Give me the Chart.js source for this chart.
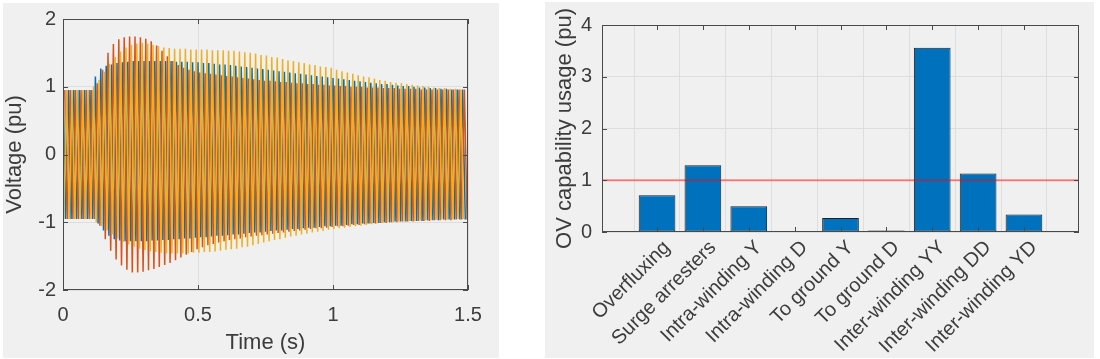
<!DOCTYPE html>
<html>
<head>
<meta charset="utf-8">
<script src="https://cdn.jsdelivr.net/npm/chart.js@4.4.1/dist/chart.umd.min.js"></script>
<style>
    html, body { margin: 0; padding: 0; background: #fff; }
    body { width: 1100px; height: 359px; position: relative; overflow: hidden; }
    .panel { position: absolute; background: #f0f0f0; }
    #leftPanel { left: 3px; top: 3px; width: 496px; height: 355px; }
    #rightPanel { left: 545px; top: 2px; width: 549px; height: 356px; }
    .box { position: absolute; top: 0; height: 359px; }
    #leftBox { left: 0; width: 500px; }
    #rightBox { left: 545px; width: 555px; }
</style>
</head>
<body>
<div class="panel" id="leftPanel"></div>
<div class="panel" id="rightPanel"></div>
<div class="box" id="leftBox"><canvas id="voltageChart"></canvas></div>
<div class="box" id="rightBox"><canvas id="usageChart"></canvas></div>
<script>
// ---- left plot: three phase voltages, one peak and one trough per 50 Hz cycle ----
const period = 0.02;

const bluePeaks = [0.95, 0.95, 0.95, 0.95, 0.95, 0.95,
    1.15, 1.27, 1.31, 1.33, 1.35, 1.36, 1.37, 1.38, 1.38, 1.38,
    1.38, 1.38, 1.38, 1.38, 1.38, 1.37, 1.37,
    1.37, 1.36, 1.36, 1.35, 1.35,
    1.34, 1.33, 1.33, 1.32, 1.31,
    1.30, 1.29, 1.28, 1.27, 1.26,
    1.25, 1.24, 1.23, 1.22, 1.21,
    1.20, 1.19, 1.18, 1.17, 1.16,
    1.15, 1.14, 1.13, 1.12, 1.11,
    1.10, 1.09, 1.08, 1.07, 1.06,
    1.05, 1.04, 1.04, 1.03, 1.02,
    1.01, 1.01, 1.00, 0.99, 0.99,
    0.98, 0.98, 0.97, 0.97, 0.96, 0.96, 0.96];
const blueTroughs = [-0.95, -0.95, -0.95, -0.95, -0.95, -0.95,
    -1.02, -1.12, -1.20, -1.25, -1.27,
    -1.28, -1.28, -1.28, -1.28, -1.28, -1.27,
    -1.27, -1.26, -1.26, -1.25, -1.25, -1.24, -1.24, -1.23,
    -1.22, -1.22, -1.21, -1.20, -1.20, -1.19, -1.18, -1.18, -1.17, -1.16,
    -1.15, -1.15, -1.14, -1.13, -1.12, -1.12, -1.11, -1.10, -1.10, -1.09,
    -1.08, -1.08, -1.07, -1.06, -1.06, -1.05, -1.05, -1.04, -1.03, -1.03,
    -1.02, -1.02, -1.01, -1.01, -1.00, -1.00, -0.99, -0.99, -0.99, -0.98,
    -0.98, -0.98, -0.97, -0.97, -0.97, -0.96, -0.96, -0.96, -0.96, -0.96];

const orangePeaks = [0.95, 0.95, 0.95, 0.95, 0.95, 0.95,
    1.05, 1.25, 1.50, 1.63, 1.70,
    1.73, 1.74, 1.74, 1.73, 1.71,
    1.67, 1.61, 1.53, 1.45, 1.38,
    1.32, 1.28, 1.25, 1.23, 1.21,
    1.20, 1.19, 1.18, 1.17, 1.16, 1.15, 1.14, 1.13, 1.12, 1.11,
    1.10, 1.09, 1.09, 1.08, 1.07, 1.07, 1.06, 1.05, 1.05, 1.04,
    1.04, 1.03, 1.03, 1.02, 1.02, 1.01, 1.01, 1.00, 1.00, 1.00,
    0.99, 0.99, 0.99, 0.98, 0.98, 0.98, 0.97, 0.97, 0.97, 0.97,
    0.96, 0.96, 0.96, 0.96, 0.96, 0.96, 0.96, 0.96, 0.96];
const orangeTroughs = [-0.95, -0.95, -0.95, -0.95, -0.95, -0.95,
    -1.05, -1.25, -1.42, -1.55, -1.64,
    -1.70, -1.74, -1.74, -1.73, -1.71,
    -1.69, -1.66, -1.63, -1.60, -1.56,
    -1.52, -1.48, -1.44, -1.40, -1.37,
    -1.34, -1.32, -1.30, -1.28, -1.26,
    -1.25, -1.24, -1.22, -1.21, -1.20, -1.19, -1.18, -1.17, -1.16, -1.15,
    -1.14, -1.13, -1.12, -1.11, -1.10, -1.09, -1.09, -1.08, -1.07, -1.06,
    -1.06, -1.05, -1.04, -1.04, -1.03, -1.02, -1.02, -1.01, -1.01, -1.00,
    -1.00, -0.99, -0.99, -0.99, -0.98, -0.98, -0.98, -0.97, -0.97, -0.97, -0.97, -0.96, -0.96, -0.96];

const yellowPeaks = [0.95, 0.95, 0.95, 0.95, 0.95, 0.95,
    1.00, 1.10, 1.22, 1.34, 1.44,
    1.52, 1.58, 1.62, 1.64, 1.65,
    1.64, 1.62, 1.60, 1.58, 1.57,
    1.56, 1.56, 1.56, 1.55, 1.55,
    1.55, 1.55, 1.54, 1.54, 1.54,
    1.53, 1.53, 1.52, 1.51, 1.50,
    1.49, 1.47, 1.46, 1.44, 1.43,
    1.41, 1.39, 1.38, 1.36, 1.35,
    1.33, 1.32, 1.30, 1.29, 1.28,
    1.25, 1.23, 1.21, 1.19, 1.17,
    1.15, 1.14, 1.12, 1.10, 1.09,
    1.07, 1.06, 1.05, 1.04, 1.03,
    1.02, 1.01, 1.00, 0.99, 0.98,
    0.98, 0.97, 0.97, 0.96];
const yellowTroughs = [-0.95, -0.95, -0.95, -0.95, -0.95, -0.95,
    -1.00, -1.06, -1.12, -1.18, -1.24,
    -1.29, -1.33, -1.36, -1.39, -1.41,
    -1.43, -1.44, -1.45, -1.46, -1.46,
    -1.46, -1.46, -1.46, -1.45, -1.45,
    -1.44, -1.44, -1.43, -1.42, -1.41,
    -1.40, -1.39, -1.37, -1.36, -1.34,
    -1.32, -1.30, -1.28, -1.26, -1.25,
    -1.23, -1.21, -1.20, -1.18, -1.17,
    -1.15, -1.14, -1.13, -1.11, -1.10,
    -1.09, -1.08, -1.07, -1.06, -1.05,
    -1.04, -1.03, -1.02, -1.01, -1.00,
    -1.00, -0.99, -0.99, -0.98, -0.98,
    -0.97, -0.97, -0.97, -0.96, -0.96, -0.96, -0.96, -0.95, -0.95];

// ---- right plot ----
const categories = ['Overfluxing', 'Surge arresters', 'Intra-winding Y', 'Intra-winding D',
    'To ground Y', 'To ground D', 'Inter-winding YY', 'Inter-winding DD', 'Inter-winding YD'];
const usage = [0.71, 1.29, 0.50, 0, 0.27, 0.03, 3.56, 1.13, 0.34];
const limitLevel = 1;

const tickFont = { family: 'Liberation Sans, Arial, sans-serif', size: 20 };
const titleFont = { family: 'Liberation Sans, Arial, sans-serif', size: 22 };
const textColor = '#3c3c3c';
const axisColor = '#4a4a4a';
const gridColor = '#dedede';

Chart.defaults.animation = false;
Chart.defaults.plugins.legend.display = false;
Chart.defaults.plugins.tooltip.enabled = false;

// matlab style box with inward ticks
const matlabBox = {
    id: 'matlabBox',
    afterDraw(chart) {
        const { ctx, chartArea: a, scales } = chart;
        const len = 5;
        ctx.save();
        ctx.strokeStyle = axisColor;
        ctx.lineWidth = 1;
        ctx.beginPath();
        scales.x.ticks.forEach(t => {
            const px = Math.round(scales.x.getPixelForValue(t.value)) + 0.5;
            ctx.moveTo(px, a.bottom); ctx.lineTo(px, a.bottom - len);
            ctx.moveTo(px, a.top); ctx.lineTo(px, a.top + len);
        });
        scales.y.ticks.forEach(t => {
            const py = Math.round(scales.y.getPixelForValue(t.value)) + 0.5;
            ctx.moveTo(a.left, py); ctx.lineTo(a.left + len, py);
            ctx.moveTo(a.right, py); ctx.lineTo(a.right - len, py);
        });
        ctx.stroke();
        ctx.strokeRect(a.left + 0.5, a.top + 0.5, a.right - a.left - 1, a.bottom - a.top - 1);
        ctx.restore();
    }
};

function phasePoints(peaks, troughs, shift) {
    const pts = [];
    peaks.forEach((p, k) => {
        pts.push({ x: k * period + shift, y: p });
        pts.push({ x: k * period + shift + period / 2, y: troughs[k] });
    });
    return pts;
}

function lineSet(data, color, order) {
    return { data: data, borderColor: color, borderWidth: 1.5, pointRadius: 0, tension: 0, order: order };
}

new Chart(document.getElementById('voltageChart').getContext('2d'), {
    type: 'line',
    data: {
        datasets: [
            lineSet(phasePoints(bluePeaks, blueTroughs, 0), '#0072BD', 2),
            lineSet(phasePoints(orangePeaks, orangeTroughs, period / 3), '#D95319', 1),
            lineSet(phasePoints(yellowPeaks, yellowTroughs, -period / 3), '#EDB120', 0)
        ]
    },
    options: {
        responsive: true,
        maintainAspectRatio: false,
        layout: { padding: { left: 0, top: 13, right: 32, bottom: 0 }, autoPadding: false },
        scales: {
            x: {
                type: 'linear', min: 0, max: 1.5,
                ticks: { stepSize: 0.5, font: tickFont, color: textColor, padding: 13, maxRotation: 0,
                    callback: v => String(v) },
                grid: { color: gridColor, drawTicks: false },
                border: { display: false },
                title: { display: true, text: 'Time (s)', font: titleFont, color: textColor, padding: { top: 0, bottom: 3 } },
                afterFit: s => { s.height = 69; }
            },
            y: {
                min: -2, max: 2,
                ticks: { stepSize: 1, font: tickFont, color: textColor, padding: 7 },
                grid: { color: gridColor, drawTicks: false },
                border: { display: false },
                title: { display: true, text: 'Voltage (pu)', font: titleFont, color: textColor, padding: { top: 2, bottom: 0 } },
                afterFit: s => { s.width = 63; }
            }
        }
    },
    plugins: [matlabBox]
});

const limitLine = {
    id: 'limitLine',
    afterDatasetsDraw(chart) {
        const { ctx, chartArea: a, scales: { y } } = chart;
        const py = y.getPixelForValue(limitLevel);
        ctx.save();
        ctx.strokeStyle = 'rgba(255, 0, 0, 0.45)';
        ctx.lineWidth = 2;
        ctx.beginPath();
        ctx.moveTo(a.left, py);
        ctx.lineTo(a.right, py);
        ctx.stroke();
        ctx.restore();
    }
};

const xMargin = 1.2;

new Chart(document.getElementById('usageChart').getContext('2d'), {
    type: 'bar',
    data: {
        datasets: [{
            data: usage.map((v, i) => ({ x: i + 1, y: v })),
            backgroundColor: '#0072BD',
            borderColor: '#1f1f1f',
            borderWidth: 1,
            borderSkipped: false,
            barPercentage: 0.8,
            categoryPercentage: 1
        }]
    },
    options: {
        responsive: true,
        maintainAspectRatio: false,
        layout: { padding: { left: 0, top: 25, right: 21, bottom: 0 }, autoPadding: false },
        scales: {
            x: {
                type: 'linear', offset: false,
                min: 1 - xMargin, max: categories.length + xMargin,
                afterBuildTicks: s => { s.ticks = categories.map((c, i) => ({ value: i + 1 })); },
                ticks: {
                    autoSkip: false, minRotation: 45, maxRotation: 45, padding: 4, labelOffset: 10,
                    font: tickFont, color: textColor,
                    callback: (v, i) => categories[i]
                },
                grid: { color: gridColor, drawTicks: false },
                border: { display: false },
                afterFit: s => { s.height = 127; }
            },
            y: {
                min: 0, max: 4,
                ticks: { stepSize: 1, font: tickFont, color: textColor, padding: 10 },
                grid: { color: gridColor, drawTicks: false },
                border: { display: false },
                title: { display: true, text: 'OV capability usage (pu)', font: titleFont, color: textColor, padding: { top: 7, bottom: 0 } },
                afterFit: s => { s.width = 57; }
            }
        }
    },
    plugins: [limitLine, matlabBox]
});
</script>
</body>
</html>
